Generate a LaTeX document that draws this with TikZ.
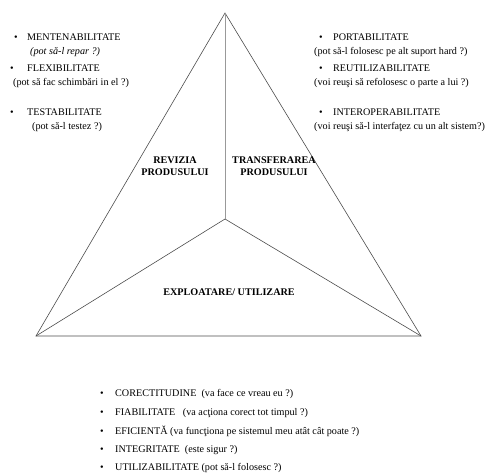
\documentclass[tikz,border=0pt]{standalone}
\usepackage{fontspec}
\setmainfont{Liberation Serif}
\usetikzlibrary{positioning}

\begin{document}
\begin{tikzpicture}[x=1bp,y=-1bp,
    edge/.style={draw=black!70,line width=0.6bp},
    item/.style={anchor=base west,inner sep=0pt,font=\fontsize{10.2}{12}\selectfont},
    dot/.style={anchor=base,inner sep=0pt,font=\fontsize{10.2}{12}\selectfont},
    zone/.style={align=center,inner sep=0pt,font=\fontsize{10.2}{12}\selectfont\bfseries}
  ]
    \useasboundingbox (0,0) rectangle (487,476);
    % triangle
    \coordinate (top) at (225,13);
    \coordinate (mid) at (225,219);
    \coordinate (bl) at (36,336);
    \coordinate (br) at (421,336);
    \draw[edge] (top) -- (bl) -- (br) -- cycle;
    \draw[edge] (bl) -- (mid) -- (br);
    \draw[edge,draw=black!40] (top) -- (mid);
    % zones
    \node[zone] (rev) at (175,166) {REVIZIA\\PRODUSULUI};
    \node[zone] (trf) at (274,166) {TRANSFERAREA\\PRODUSULUI};
    \node[zone] (exp) at (229,292) {EXPLOATARE/ UTILIZARE};
    % left column
    \node[dot] (d1) at (16,41) {\textbullet};
    \node[item] (mnt) at (27,41) {MENTENABILITATE};
    \node[item] (mnth) at (30,55) {\itshape (pot să-l repar ?)};
    \node[dot] (d2) at (12,72) {\textbullet};
    \node[item] (flx) at (27,72) {FLEXIBILITATE};
    \node[item] (flxh) at (13,86) {(pot să fac schimbări in el ?)};
    \node[dot] (d3) at (12,116) {\textbullet};
    \node[item] (tst) at (27,116) {TESTABILITATE};
    \node[item] (tsth) at (32,130) {(pot să-l testez ?)};
    % right column
    \node[dot] (d4) at (321,41) {\textbullet};
    \node[item] (prt) at (333,41) {PORTABILITATE};
    \node[item] (prth) at (314,55) {(pot să-l folosesc pe alt suport hard ?)};
    \node[dot] (d5) at (321,72) {\textbullet};
    \node[item] (reu) at (333,72) {REUTILIZABILITATE};
    \node[item] (reuh) at (314,86) {(voi reuşi să refolosesc o parte a lui ?)};
    \node[dot] (d6) at (321,116) {\textbullet};
    \node[item] (int) at (333,116) {INTEROPERABILITATE};
    \node[item] (inth) at (314,130) {(voi reuşi să-l interfaţez cu un alt sistem?)};
    % bottom list
    \node[dot] (b1) at (102,396) {\textbullet};
    \node[item] (cor) at (115,396) {CORECTITUDINE\ \ (va face ce vreau eu ?)};
    \node[dot] (b2) at (102,415) {\textbullet};
    \node[item] (fia) at (115,415) {FIABILITATE\ \ \ (va acţiona corect tot timpul ?)};
    \node[dot] (b3) at (102,434) {\textbullet};
    \node[item] (efi) at (115,434) {EFICIENTĂ (va funcţiona pe sistemul meu atât cât poate ?)};
    \node[dot] (b4) at (102,452) {\textbullet};
    \node[item] (itg) at (115,452) {INTEGRITATE\ \ (este sigur ?)};
    \node[dot] (b5) at (102,470) {\textbullet};
    \node[item] (utl) at (115,470) {UTILIZABILITATE (pot să-l folosesc ?)};
\end{tikzpicture}
\end{document}
